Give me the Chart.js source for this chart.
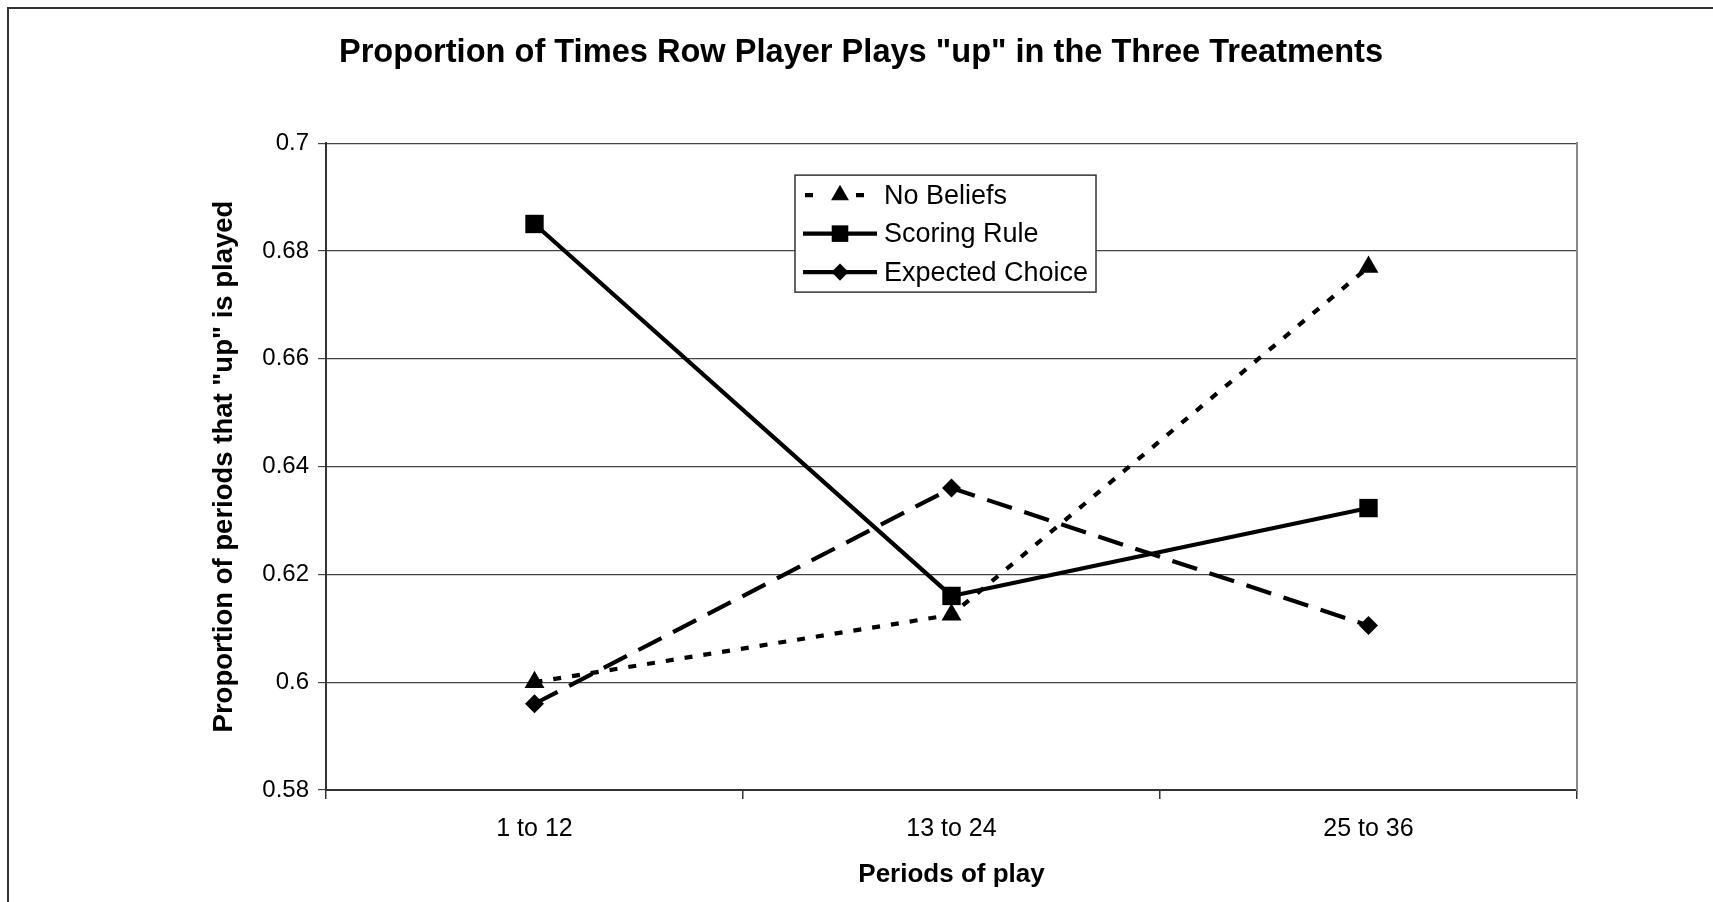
<!DOCTYPE html>
<html>
<head>
<meta charset="utf-8">
<title>Proportion of Times Row Player Plays "up" in the Three Treatments</title>
<script src="https://cdn.jsdelivr.net/npm/chart.js@4/dist/chart.umd.min.js"></script>
<style>
  html, body { margin: 0; padding: 0; background: #fff; }
  #wrap { width: 1713px; height: 902px; position: relative; }
</style>
</head>
<body>
<div id="wrap"><canvas id="lineChart"></canvas></div>
<script>
const periods = ['1 to 12', '13 to 24', '25 to 36'];
const noBeliefs = [0.600, 0.6125, 0.677];
const scoringRule = [0.685, 0.616, 0.6323];
const expectedChoice = [0.596, 0.636, 0.6105];
const yTickValues = [0.58, 0.6, 0.62, 0.64, 0.66, 0.68, 0.7];
const yTickLabels = ['0.58', '0.6', '0.62', '0.64', '0.66', '0.68', '0.7'];

const fontFamily = "'Liberation Sans', Arial, Helvetica, sans-serif";
const ctx = document.getElementById('lineChart').getContext('2d');

// outer border (runs off the right and bottom edge like the original)
const framePlugin = {
    id: 'frame',
    beforeDraw(chart) {
        const c = chart.ctx;
        c.save();
        c.fillStyle = '#fff';
        c.fillRect(0, 0, chart.width, chart.height);
        c.strokeStyle = '#333';
        c.lineWidth = 2;
        c.strokeRect(8, 8, chart.width + 50, chart.height + 50);
        c.restore();
    }
};

function drawMarker(c, style, x, y, r) {
    c.beginPath();
    if (style === 'triangle') {
        c.moveTo(x, y - r);
        c.lineTo(x + r * 0.866, y + r * 0.5);
        c.lineTo(x - r * 0.866, y + r * 0.5);
    } else if (style === 'rect') {
        const s = r * Math.SQRT1_2;
        c.rect(x - s, y - s, 2 * s, 2 * s);
    } else {
        c.moveTo(x, y - r);
        c.lineTo(x + r, y);
        c.lineTo(x, y + r);
        c.lineTo(x - r, y);
    }
    c.closePath();
    c.fill();
}

// legend box inside the plot, drawn like the Excel one (line sample + marker)
const legendDash = [[8, 43], [], []];
const legendPlugin = {
    id: 'boxLegend',
    afterDraw(chart) {
        const a = chart.chartArea;
        const c = chart.ctx;
        const left = a.left + 469, top = a.top + 32, w = 301, h = 117;
        c.save();
        c.fillStyle = '#fff';
        c.fillRect(left, top, w, h);
        c.strokeStyle = '#333';
        c.lineWidth = 1.5;
        c.strokeRect(left, top, w, h);
        chart.data.datasets.forEach((ds, i) => {
            const y = top + 20 + i * 38.5;
            c.strokeStyle = '#000';
            c.fillStyle = '#000';
            c.lineWidth = ds.borderWidth;
            c.setLineDash(legendDash[i]);
            c.beginPath();
            c.moveTo(left + (i === 0 ? 10 : 8), y);
            c.lineTo(left + (i === 0 ? 69 : 82), y);
            c.stroke();
            c.setLineDash([]);
            drawMarker(c, ds.pointStyle, left + 45, y, ds.pointRadius * 0.9);
            c.font = '27px ' + fontFamily;
            c.textBaseline = 'middle';
            c.textAlign = 'left';
            c.fillText(ds.label, left + 89, y + 1);
        });
        c.restore();
    }
};

new Chart(ctx, {
    type: 'line',
    data: {
        labels: periods,
        datasets: [
            {
                label: 'No Beliefs',
                data: noBeliefs,
                borderColor: '#000',
                backgroundColor: '#000',
                borderWidth: 4.2,
                borderDash: [8, 11],
                pointStyle: 'triangle',
                pointRadius: 11.5,
                pointHoverRadius: 11.5,
                pointBorderWidth: 0
            },
            {
                label: 'Scoring Rule',
                data: scoringRule,
                borderColor: '#000',
                backgroundColor: '#000',
                borderWidth: 4.2,
                pointStyle: 'rect',
                pointRadius: 13,
                pointHoverRadius: 13,
                pointBorderWidth: 0
            },
            {
                label: 'Expected Choice',
                data: expectedChoice,
                borderColor: '#000',
                backgroundColor: '#000',
                borderWidth: 4.2,
                borderDash: [26, 13],
                pointStyle: 'rectRot',
                pointRadius: 9.5,
                pointHoverRadius: 9.5,
                pointBorderWidth: 0
            }
        ]
    },
    options: {
        responsive: true,
        maintainAspectRatio: false,
        animation: false,
        layout: { padding: { left: 9, right: 0, top: 0, bottom: 0 } },
        plugins: {
            legend: { display: false },
            tooltip: { enabled: false },
            title: {
                display: true,
                text: 'Proportion of Times Row Player Plays "up" in the Three Treatments',
                color: '#000',
                font: { family: fontFamily, size: 32.6, weight: 'bold' },
                padding: { top: 33, bottom: 71 }
            }
        },
        scales: {
            x: {
                offset: true,
                grid: { offset: true, drawOnChartArea: false, tickLength: 9, color: '#333', lineWidth: 1.5 },
                border: { color: '#333', width: 2 },
                ticks: { color: '#000', font: { family: fontFamily, size: 25 }, padding: 15, maxRotation: 0 },
                title: {
                    display: true,
                    text: 'Periods of play',
                    color: '#000',
                    font: { family: fontFamily, size: 26, weight: 'bold' },
                    padding: { top: 0, bottom: 12 }
                },
                afterFit: function(scale) { scale.height = 112; }
            },
            y: {
                min: 0.58,
                max: 0.7,
                afterBuildTicks: function(scale) {
                    scale.ticks = yTickValues.map(v => ({ value: v }));
                },
                ticks: {
                    color: '#000',
                    font: { family: fontFamily, size: 24 },
                    padding: 9,
                    callback: function(value, index) { return yTickLabels[index]; }
                },
                grid: { color: '#444', lineWidth: 1.2, tickLength: 8 },
                border: { color: '#333', width: 2 },
                title: {
                    display: true,
                    text: 'Proportion of periods that "up" is played',
                    color: '#000',
                    font: { family: fontFamily, size: 27.5, weight: 'bold' },
                    padding: { top: 199, bottom: 0 }
                },
                afterFit: function(scale) { scale.width = 317; }
            },
            // empty right axis: gives the grey right edge of the plot and the right margin
            yRight: {
                position: 'right',
                min: 0.58,
                max: 0.7,
                ticks: { display: false },
                grid: { drawOnChartArea: false, drawTicks: false },
                border: { color: '#888', width: 2 },
                afterFit: function(scale) { scale.width = 136; }
            }
        }
    },
    plugins: [framePlugin, legendPlugin]
});
</script>
</body>
</html>
